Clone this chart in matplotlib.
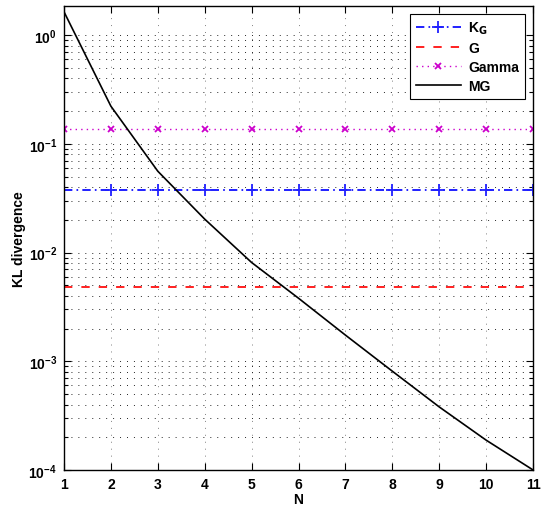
import numpy as np
import matplotlib
matplotlib.use("Agg")
from matplotlib import pyplot as plt
from matplotlib.ticker import LogLocator, NullFormatter

plt.rcParams['font.family'] = ['Liberation Sans', 'DejaVu Sans']
plt.rcParams['font.weight'] = 'bold'
plt.rcParams['font.size'] = 10
plt.rcParams['lines.scale_dashes'] = False

N = [1, 2, 3, 4, 5, 6, 7, 8, 9, 10, 11]
kl_kg = [0.0374] * 11
kl_g = [0.0048] * 11
kl_gamma = [0.136] * 11
kl_mg = [1.64, 0.222, 0.056, 0.0203, 0.0081, 0.0038, 0.00174, 0.00081,
         0.00038, 0.000188, 0.0001]

fig = plt.figure(figsize=(5.53, 5.06), dpi=100)
ax = fig.add_axes([0.1157, 0.0692, 0.8483, 0.9168])

ax.plot(N, kl_kg, color='#2020ff', linestyle='-.', dashes=(6, 3, 1.2, 3),
        marker='+', markersize=8, markeredgewidth=1.3, linewidth=1.4,
        label='K$_\\mathbf{G}$')
ax.plot(N, kl_g, color='#ff2020', linestyle='--', linewidth=1.4, dashes=(6, 6.5),
        label='G')
ax.plot(N, kl_gamma, color='#cc00cc', linestyle=':', dashes=(1, 3), marker='x',
        markersize=5, markeredgewidth=1.3, linewidth=1, label='Gamma')
ax.plot(N, kl_mg, color='black', linestyle='-', linewidth=1.2, label='MG')

ax.set_yscale('log')
ax.set_xlim(1, 11)
ax.set_ylim(1e-4, 1.85)
ax.set_xticks(N)
ax.yaxis.set_major_locator(LogLocator(base=10, numticks=10))
ax.yaxis.set_minor_locator(LogLocator(base=10, subs=np.arange(2, 10), numticks=20))
ax.yaxis.set_minor_formatter(NullFormatter())

ax.grid(True, which='major', axis='x', linestyle=(0, (0.7, 4.3)), color='0.5',
        linewidth=0.7)
ax.grid(True, which='both', axis='y', linestyle=(0, (0.7, 4.3)), color='0.15',
        linewidth=0.7)
ax.set_axisbelow(True)
ax.tick_params(which='both', direction='in', top=True, right=True, width=0.8)
ax.tick_params(which='major', length=5, pad=5)
ax.tick_params(which='minor', length=3)
for s in ax.spines.values():
    s.set_linewidth(1)

ax.set_xlabel('N', fontweight='bold', labelpad=1)
ax.set_ylabel('KL divergence', fontweight='bold', labelpad=2)

leg = ax.legend(loc='upper right', fancybox=False, edgecolor='black',
                framealpha=1, handlelength=3.3, borderpad=0.4,
                labelspacing=0.35, handletextpad=0.5, borderaxespad=0.6,
                prop={'weight': 'bold', 'size': 10})
leg.get_frame().set_linewidth(0.8)

fig.savefig('out.png', dpi=100)
